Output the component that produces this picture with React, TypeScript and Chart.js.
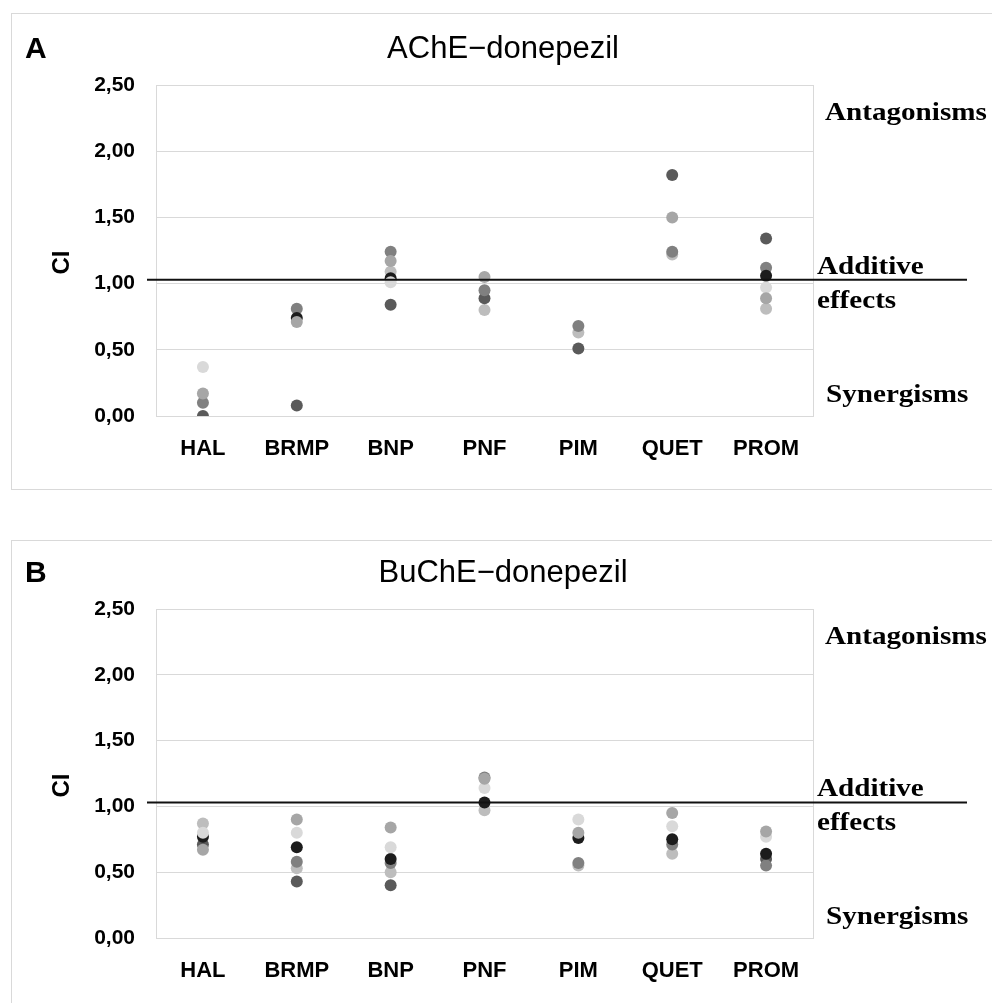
import React, { useEffect, useRef } from 'react';
import { Chart, registerables } from 'chart.js';

Chart.register(...registerables);

// ---------- data ----------
const CATEGORIES = ['HAL', 'BRMP', 'BNP', 'PNF', 'PIM', 'QUET', 'PROM'];
const Y_TICK_LABELS = ['0,00', '0,50', '1,00', '1,50', '2,00', '2,50'];
const Y_MIN = 0;
const Y_MAX = 2.5;
const Y_STEP = 0.5;
const ADDITIVE_LEVEL = 1.03;

const TITLE_A = 'AChE\u2212donepezil';
const TITLE_B = 'BuChE\u2212donepezil';
const LABEL_ANTAGONISMS = 'Antagonisms';
const LABEL_ADDITIVE = 'Additive';
const LABEL_EFFECTS = 'effects';
const LABEL_SYNERGISMS = 'Synergisms';
const Y_TITLE = 'CI';

// Panel A (AChE-donepezil), one value per category
const A_MID = [0.17, 0.71, 1.17, 1.05, null, 1.5, 0.89];
const A_LIGHT = [0.37, null, 1.01, null, null, null, 0.97];
const A_BLACK = [null, 0.74, 1.04, null, null, null, 1.06];
const A_GRAY = [0.1, 0.81, 1.24, 0.95, 0.68, 1.24, 1.12];
const A_DARK = [0.0, 0.08, 0.84, 0.89, 0.51, 1.82, 1.34];
const A_SILVER = [null, null, 1.09, 0.8, 0.63, 1.22, 0.81];

// Panel B (BuChE-donepezil)
const B_MID = [0.67, 0.9, 0.84, 1.21, 0.8, 0.95, 0.81];
const B_LIGHT = [0.8, 0.8, 0.69, 1.14, 0.9, 0.85, 0.77];
const B_BLACK = [0.77, 0.69, 0.6, 1.03, 0.76, 0.75, 0.64];
const B_GRAY = [null, 0.58, 0.57, 1.22, 0.57, 0.71, 0.55];
const B_DARK = [0.71, 0.43, 0.4, null, null, null, 0.6];
const B_SILVER = [0.87, 0.53, 0.5, 0.97, 0.55, 0.64, null];

// series colours, listed top-most first
const SERIES_COLORS = ['#a6a6a6', '#d9d9d9', '#1c1c1c', '#808080', '#5a5a5a', '#bdbdbd'];

const SANS = '"Liberation Sans", Arial, sans-serif';
const SERIF = '"Liberation Serif", "Times New Roman", serif';

const overlayPlugin = {
  id: 'overlay',
  beforeDatasetsDraw(chart: any) {
    const { ctx, chartArea } = chart;
    ctx.save();
    ctx.strokeStyle = '#d9d9d9';
    ctx.lineWidth = 1;
    const x = Math.round(chartArea.right) + 0.5;
    ctx.beginPath();
    ctx.moveTo(x, chartArea.top);
    ctx.lineTo(x, chartArea.bottom);
    ctx.stroke();
    ctx.restore();
  },
  afterDatasetsDraw(chart: any) {
    const { ctx, chartArea, scales } = chart;
    const y = scales.y.getPixelForValue(ADDITIVE_LEVEL);
    ctx.save();
    ctx.strokeStyle = '#111111';
    ctx.lineWidth = 2;
    ctx.beginPath();
    ctx.moveTo(chartArea.left - 9, y);
    ctx.lineTo(chartArea.right + 154, y);
    ctx.stroke();
    ctx.restore();
  },
  afterDraw(chart: any, _args: any, opts: any) {
    const { ctx, chartArea, scales } = chart;
    const lineY = scales.y.getPixelForValue(ADDITIVE_LEVEL);
    ctx.save();
    ctx.fillStyle = '#000';
    ctx.textBaseline = 'alphabetic';
    // panel letter
    ctx.font = `bold 30px ${SANS}`;
    ctx.textAlign = 'left';
    ctx.fillText(opts.letter, 25, chartArea.top - 27);
    // title
    ctx.font = `normal 31px ${SANS}`;
    ctx.textAlign = 'center';
    ctx.fillText(opts.title, 503, chartArea.top - 27);
    // y title
    ctx.save();
    ctx.translate(62, (chartArea.top + chartArea.bottom) / 2 + 12);
    ctx.rotate(-Math.PI / 2);
    ctx.font = `bold 24px ${SANS}`;
    ctx.textAlign = 'center';
    ctx.textBaseline = 'middle';
    ctx.fillText(Y_TITLE, 0, 0);
    ctx.restore();
    // right-hand serif labels
    const serif = (text: string, x: number, y: number) => {
      ctx.save();
      ctx.translate(x, y);
      ctx.scale(1.12, 1);
      ctx.font = `bold 26px ${SERIF}`;
      ctx.textAlign = 'left';
      ctx.textBaseline = 'alphabetic';
      ctx.fillText(text, 0, 0);
      ctx.restore();
    };
    serif(LABEL_ANTAGONISMS, chartArea.right + 12, chartArea.top + 35);
    serif(LABEL_ADDITIVE, chartArea.right + 4, lineY - 6);
    serif(LABEL_EFFECTS, chartArea.right + 4, lineY + 28);
    serif(LABEL_SYNERGISMS, chartArea.right + 13, chartArea.bottom - 14);
    ctx.restore();
  },
};

type PanelProps = {
  letter: string;
  title: string;
  series: (number | null)[][];
  width: number;
  height: number;
  padTop: number;
  xAxisHeight: number;
};

function Panel({ letter, title, series, width, height, padTop, xAxisHeight }: PanelProps) {
  const ref = useRef<HTMLCanvasElement | null>(null);
  useEffect(() => {
    if (!ref.current) return;
    const chart = new Chart(ref.current, {
      type: 'line',
      data: {
        labels: CATEGORIES,
        datasets: series.map((vals, i) => ({
          data: vals,
          showLine: false,
          order: i,
          pointRadius: 6,
          pointHoverRadius: 6,
          pointBorderWidth: 0,
          pointBackgroundColor: SERIES_COLORS[i],
          pointBorderColor: SERIES_COLORS[i],
          backgroundColor: SERIES_COLORS[i],
          borderColor: SERIES_COLORS[i],
        })),
      },
      options: {
        animation: false,
        responsive: false,
        maintainAspectRatio: false,
        events: [],
        layout: { padding: { left: 0, top: padTop, right: 179, bottom: 0 } },
        plugins: {
          legend: { display: false },
          tooltip: { enabled: false },
          // @ts-ignore
          overlay: { letter, title },
        },
        scales: {
          x: {
            type: 'category',
            offset: true,
            grid: { display: false, drawTicks: false },
            border: { display: true, color: '#d9d9d9' },
            ticks: {
              color: '#000',
              padding: 20,
              maxRotation: 0,
              autoSkip: false,
              font: { family: SANS, size: 22, weight: 'bold' },
            },
            afterFit: (s: any) => {
              s.height = xAxisHeight;
            },
          },
          y: {
            min: Y_MIN,
            max: Y_MAX,
            grid: { color: '#d9d9d9', drawTicks: false, lineWidth: 1 },
            border: { display: true, color: '#d9d9d9' },
            ticks: {
              stepSize: Y_STEP,
              padding: 21,
              color: '#000',
              font: { family: SANS, size: 21, weight: 'bold' },
              callback: (v: any) => Y_TICK_LABELS[Math.round((Number(v) - Y_MIN) / Y_STEP)],
            },
            afterFit: (s: any) => {
              s.width = 156;
            },
          },
        },
      } as any,
      plugins: [overlayPlugin as any],
    });
    return () => chart.destroy();
  }, []);
  return <canvas ref={ref} width={width} height={height} style={{ width, height, display: 'block' }} />;
}

export default function App() {
  const seriesA = [A_MID, A_LIGHT, A_BLACK, A_GRAY, A_DARK, A_SILVER];
  const seriesB = [B_MID, B_LIGHT, B_BLACK, B_GRAY, B_DARK, B_SILVER];
  return (
    <div style={{ position: 'absolute', left: 0, top: 0, width: 992, height: 1003, overflow: 'hidden', background: '#fff' }}>
      <div style={{ position: 'absolute', left: 11, top: 13, width: 1000, height: 477, border: '1px solid #d9d9d9', boxSizing: 'border-box' }} />
      <div style={{ position: 'absolute', left: 11, top: 540, width: 1000, height: 500, border: '1px solid #d9d9d9', boxSizing: 'border-box' }} />
      <div style={{ position: 'absolute', left: 0, top: 0 }}>
        <Panel letter="A" title={TITLE_A} series={seriesA} width={992} height={510} padTop={85} xAxisHeight={94} />
      </div>
      <div style={{ position: 'absolute', left: 0, top: 520 }}>
        <Panel letter="B" title={TITLE_B} series={seriesB} width={992} height={483} padTop={89} xAxisHeight={65} />
      </div>
    </div>
  );
}
